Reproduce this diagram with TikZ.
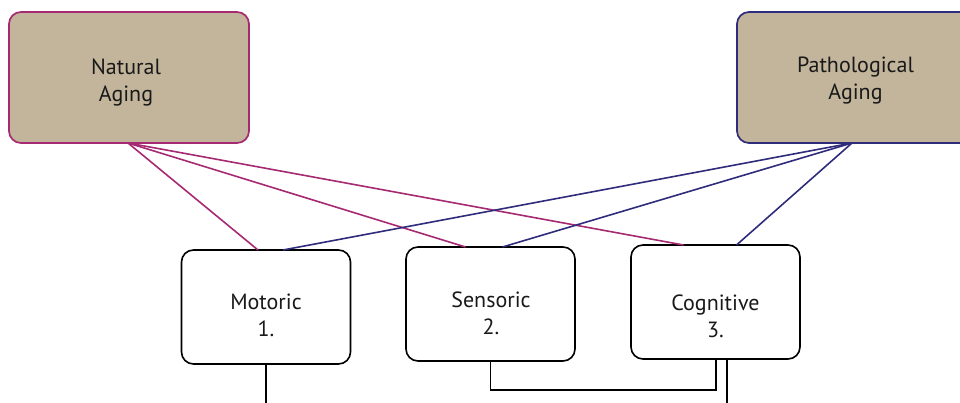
\documentclass[tikz,border=0pt]{standalone}
\usepackage{fontspec}
\setmainfont{PT Sans}
\usetikzlibrary{calc}
\definecolor{sand}{HTML}{C2B59B}
\definecolor{natline}{HTML}{A62A72}
\definecolor{patline}{HTML}{2F2C7C}
\tikzset{
  agebox/.style={draw, line width=1.7pt, rounded corners=12pt, fill=sand,
    minimum width=240pt, minimum height=131pt, inner sep=0pt, outer sep=0pt},
  domainbox/.style={draw=black, line width=1.6pt, rounded corners=12pt, fill=white,
    minimum width=169pt, minimum height=114pt, inner sep=0pt, outer sep=0pt},
  boxtext/.style={align=center, font=\fontsize{22}{27}\selectfont, inner sep=0pt, text=black!90},
  natlink/.style={natline, line width=1.6pt},
  patlink/.style={patline, line width=1.6pt},
  flow/.style={black, line width=1.6pt}
}
\begin{document}
\begin{tikzpicture}[x=1pt, y=-1pt]
\useasboundingbox (0,0) rectangle (960,403);
\clip (0,0) rectangle (960,403);

% top categories
\node[agebox, draw=natline] (nat) at (129,77.5) {};
\node[agebox, draw=patline] (pat) at (857,77.5) {};
\node[boxtext] (natlabel) at (126,82.5) {Natural\\Aging};
\node[boxtext] (patlabel) at (855.5,80.5) {Pathological\\Aging};

% domain boxes
\node[domainbox] (mot) at (266,307) {};
\node[domainbox] (sen) at (490.5,304) {};
\node[domainbox] (cog) at (715.5,302) {};
\node[boxtext] (motlabel) at (266,315) {Motoric\\1.};
\node[boxtext] (senlabel) at (491,313.5) {Sensoric\\2.};
\node[boxtext] (coglabel) at (715.5,316.5) {Cognitive\\3.};

% fan-out points
\coordinate (natfan) at ($(nat.south)+(-1,0)$);
\coordinate (patfan) at ($(pat.south)+(-5,0)$);

% natural aging links
\draw[natlink] (natfan) -- ($(mot.north)+(-8,0)$);
\draw[natlink] (natfan) -- ($(sen.north)+(-25,0)$);
\draw[natlink] (natfan) -- ($(cog.north)+(-32,0)$);

% pathological aging links
\draw[patlink] (patfan) -- ($(mot.north)+(17,0)$);
\draw[patlink] (patfan) -- ($(sen.north)+(12,0)$);
\draw[patlink] (patfan) -- ($(cog.north)+(21,0)$);

% lower connections
\coordinate (motdown) at (266,403);
\coordinate (cogdown) at (727,403);
\draw[flow] (mot.south) -- (motdown);
\draw[flow] (sen.south) -- ++(0,29) -| ($(cog.south)+(0.5,0)$);
\draw[flow] ($(cog.south)+(11.5,0)$) -- (cogdown);
\end{tikzpicture}
\end{document}
